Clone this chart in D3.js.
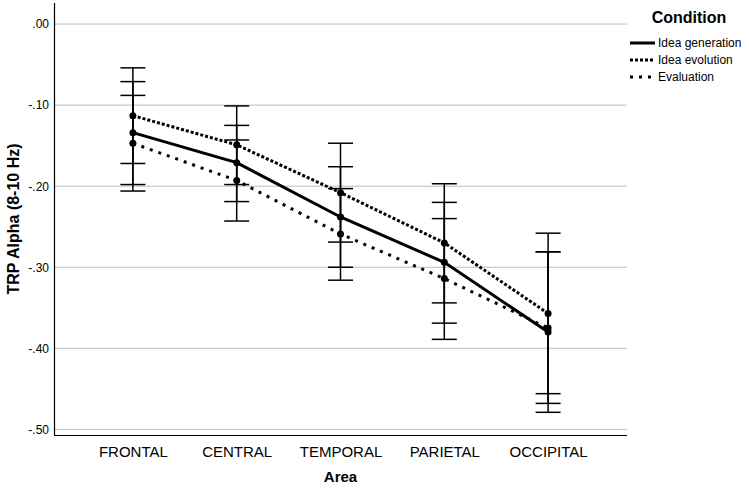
<!DOCTYPE html>
<html><head><meta charset="utf-8">
<script src="https://cdn.jsdelivr.net/npm/d3@7"></script>
<style>body{margin:0;background:#fff}svg{display:block}text{font-family:"Liberation Sans",Arial,sans-serif;fill:#000}</style>
</head><body><svg id="c" width="749" height="489"></svg>
<script>
const categories = ["FRONTAL","CENTRAL","TEMPORAL","PARIETAL","OCCIPITAL"];
const seriesNames = ["Idea generation","Idea evolution","Evaluation"];
const genMean = [-0.134,-0.171,-0.238,-0.294,-0.380];
const genLo   = [-0.198,-0.219,-0.300,-0.369,-0.479];
const genHi   = [-0.071,-0.125,-0.176,-0.220,-0.281];
const evoMean = [-0.113,-0.149,-0.208,-0.270,-0.357];
const evoLo   = [-0.172,-0.198,-0.269,-0.344,-0.456];
const evoHi   = [-0.054,-0.101,-0.147,-0.197,-0.258];
const evaMean = [-0.147,-0.193,-0.259,-0.314,-0.375];
const evaLo   = [-0.206,-0.243,-0.316,-0.389,-0.468];
const evaHi   = [-0.088,-0.143,-0.203,-0.240,-0.281];
const yTicks = [0,-0.1,-0.2,-0.3,-0.4,-0.5];
const yTickLabels = [".00","-.10","-.20","-.30","-.40","-.50"];

const series = [
  {name:seriesNames[0], mean:genMean, lo:genLo, hi:genHi, dash:null},
  {name:seriesNames[1], mean:evoMean, lo:evoLo, hi:evoHi, dash:"3,2"},
  {name:seriesNames[2], mean:evaMean, lo:evaLo, hi:evaHi, dash:"3,6"}
];

const svg = d3.select("#c");
const L=54, R=627, T=3, B=435;
const x = d3.scalePoint().domain(categories).range([L,R]).padding(0.76);
const y = d3.scaleLinear().domain([0.026,-0.507]).range([T,B]);

// gridlines
svg.append("g").selectAll("line").data(yTicks).join("line")
  .attr("x1",L).attr("x2",R).attr("y1",d=>y(d)).attr("y2",d=>y(d))
  .attr("stroke","#bdbdbd").attr("stroke-width",1);

// y axis
const ya = svg.append("g").attr("transform",`translate(${L},0)`)
  .call(d3.axisLeft(y).tickValues(yTicks).tickSize(0).tickPadding(5).tickFormat((d,i)=>yTickLabels[i]));
ya.select(".domain").remove();
ya.selectAll("text").style("font-size","12px").style("font-family","'Liberation Sans',Arial,sans-serif");
svg.append("line").attr("x1",L+0.5).attr("x2",L+0.5).attr("y1",T).attr("y2",B).attr("stroke","#000").attr("stroke-width",1.2);

// x axis
const xa = svg.append("g").attr("transform",`translate(0,${B})`)
  .call(d3.axisBottom(x).tickSize(0).tickPadding(11));
xa.select(".domain").remove();
xa.selectAll("text").style("font-size","15px").style("font-family","'Liberation Sans',Arial,sans-serif");
svg.append("line").attr("x1",L).attr("x2",R).attr("y1",B+0.5).attr("y2",B+0.5).attr("stroke","#000").attr("stroke-width",1.2);

// axis titles
svg.append("text").attr("x",(L+R)/2).attr("y",482).attr("text-anchor","middle")
  .style("font-size","15px").style("font-weight","bold").text("Area");
svg.append("text").attr("transform",`translate(13,${(T+B)/2}) rotate(-90)`).attr("text-anchor","middle")
  .attr("dy","0.35em").style("font-size","16px").style("font-weight","bold").text("TRP Alpha (8-10 Hz)");

// error bars
const cap = 12.5;
series.forEach(s=>{
  const g = svg.append("g");
  categories.forEach((c,i)=>{
    const cx = x(c);
    g.append("line").attr("x1",cx).attr("x2",cx).attr("y1",y(s.hi[i])).attr("y2",y(s.lo[i])).attr("stroke","#000").attr("stroke-width",1.5);
    [s.hi[i],s.lo[i]].forEach(v=>{
      g.append("line").attr("x1",cx-cap).attr("x2",cx+cap).attr("y1",y(v)).attr("y2",y(v)).attr("stroke","#000").attr("stroke-width",1.5);
    });
  });
});

// lines
const line = d3.line().x((d,i)=>x(categories[i])).y(d=>y(d));
series.forEach(s=>{
  svg.append("path").datum(s.mean).attr("d",line).attr("fill","none")
    .attr("stroke","#000").attr("stroke-width",3).attr("stroke-dasharray",s.dash);
  svg.append("g").selectAll("circle").data(s.mean).join("circle")
    .attr("cx",(d,i)=>x(categories[i])).attr("cy",d=>y(d)).attr("r",3.5).attr("fill","#000");
});

// legend
svg.append("text").attr("x",689).attr("y",23).attr("text-anchor","middle")
  .style("font-size","16px").style("font-weight","bold").text("Condition");
series.forEach((s,i)=>{
  const yy = 43 + i*17;
  svg.append("line").attr("x1",630).attr("x2",655).attr("y1",yy).attr("y2",yy)
    .attr("stroke","#000").attr("stroke-width",3).attr("stroke-dasharray",s.dash);
  svg.append("text").attr("x",658).attr("y",yy).attr("dy","0.35em").style("font-size","12px").text(s.name);
});
</script></body></html>
